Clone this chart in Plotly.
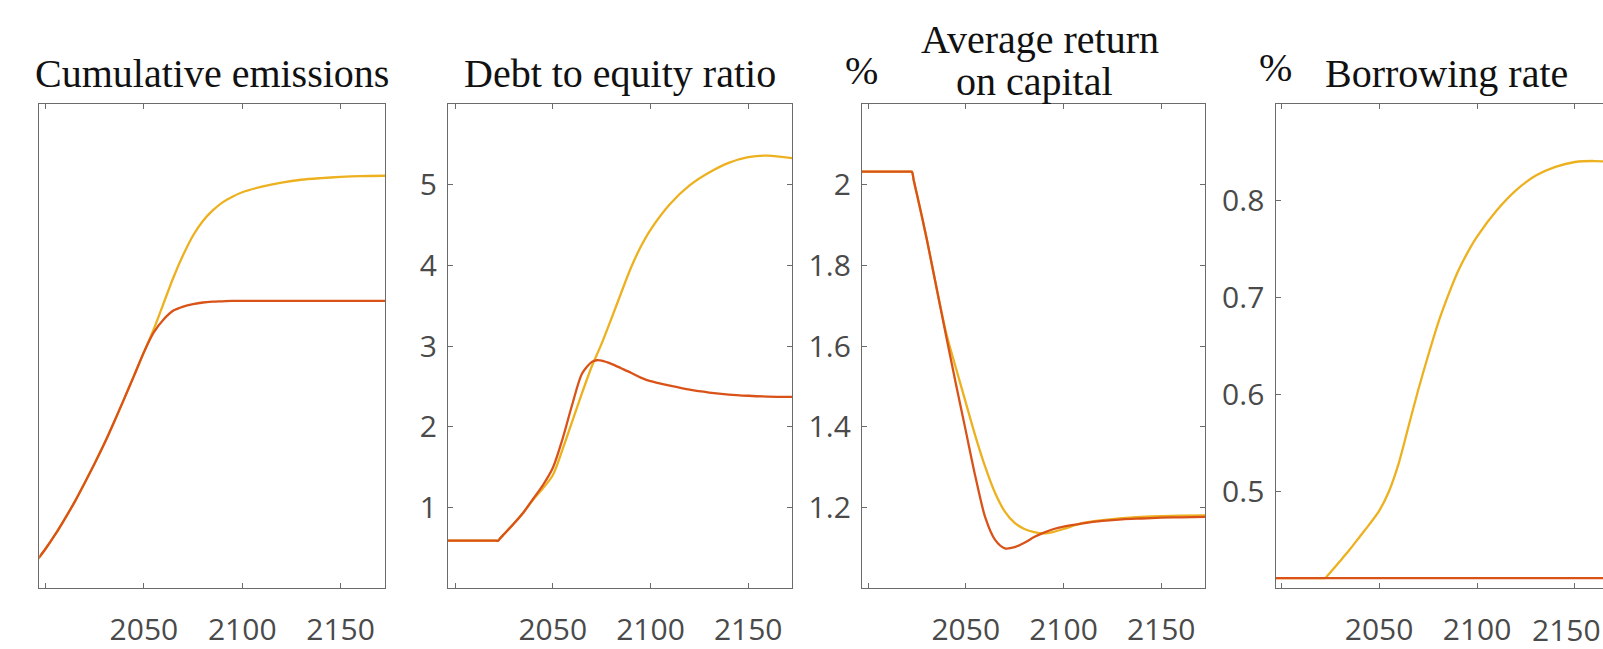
import plotly.graph_objects as go

W, H = 1603, 649

# ---------------- data ----------------
# Panel 1: Cumulative emissions (no y scale shown)
emis_years = [1996, 2000, 2005, 2010, 2015, 2020, 2025, 2030, 2035, 2040, 2045, 2050,
              2055, 2060, 2065, 2070, 2075, 2080, 2085, 2090, 2095, 2100, 2110, 2120,
              2130, 2140, 2150, 2160, 2175]
emis_red = [0.36, 0.49, 0.67, 0.87, 1.08, 1.31, 1.55, 1.80, 2.07, 2.35, 2.635, 2.925,
            3.17, 3.33, 3.44, 3.49, 3.52, 3.54, 3.55, 3.555, 3.56, 3.56, 3.56, 3.56,
            3.56, 3.56, 3.56, 3.56, 3.56]
emis_yellow = [0.36, 0.49, 0.67, 0.87, 1.08, 1.31, 1.55, 1.80, 2.07, 2.35, 2.635, 2.925,
               3.21, 3.53, 3.85, 4.13, 4.37, 4.55, 4.68, 4.78, 4.85, 4.905, 4.975, 5.025,
               5.06, 5.08, 5.095, 5.105, 5.11]

# Panel 2: Debt to equity ratio
debt_years = [1996, 2000, 2010, 2021, 2022, 2023, 2025, 2030, 2035, 2040, 2045, 2050,
              2055, 2060, 2065, 2070, 2072.5, 2075, 2080, 2085, 2090, 2095, 2100, 2110,
              2120, 2130, 2140, 2150, 2160, 2175]
debt_red = [0.59, 0.59, 0.59, 0.59, 0.59, 0.617, 0.67, 0.80, 0.94, 1.11, 1.28, 1.49,
            1.85, 2.28, 2.66, 2.805, 2.825, 2.82, 2.78, 2.725, 2.67, 2.61, 2.565, 2.51,
            2.46, 2.425, 2.40, 2.385, 2.375, 2.37]
debt_yellow = [0.59, 0.59, 0.59, 0.59, 0.59, 0.617, 0.67, 0.80, 0.94, 1.10, 1.24, 1.40,
               1.72, 2.07, 2.42, 2.75, 2.89, 3.03, 3.34, 3.66, 3.97, 4.23, 4.44, 4.76,
               4.99, 5.15, 5.27, 5.34, 5.36, 5.32]

# Panel 3: Average return on capital (%)
ret_years = [1996, 2000, 2010, 2021.4, 2022.4, 2023.4, 2025, 2030, 2035, 2040, 2045, 2050,
             2055, 2060, 2065, 2070, 2075, 2080, 2085, 2090, 2095, 2100, 2110, 2120,
             2130, 2140, 2150, 2160, 2175]
ret_red = [2.032, 2.032, 2.032, 2.032, 2.032, 2.010, 1.976, 1.866, 1.745, 1.624, 1.505,
           1.39, 1.275, 1.175, 1.12, 1.099, 1.102, 1.113, 1.127, 1.138, 1.147, 1.153,
           1.161, 1.167, 1.171, 1.173, 1.175, 1.176, 1.177]
ret_yellow = [2.032, 2.032, 2.032, 2.032, 2.032, 2.010, 1.976, 1.866, 1.745, 1.632, 1.545,
              1.46, 1.376, 1.30, 1.236, 1.19, 1.162, 1.147, 1.139, 1.136, 1.14, 1.147,
              1.162, 1.169, 1.174, 1.177, 1.179, 1.18, 1.181]

# Panel 4: Borrowing rate (%)
borrow_years = [1996, 2000, 2010, 2021.6, 2022.6, 2023.6, 2030, 2035, 2040, 2045, 2050,
                2055, 2060, 2065, 2070, 2075, 2080, 2085, 2090, 2095, 2100, 2110, 2120,
                2130, 2140, 2150, 2160, 2175]
borrow_red = [0.4106] * len(borrow_years)
borrow_yellow = [0.4106, 0.4106, 0.4106, 0.4106, 0.4106, 0.413, 0.428, 0.440, 0.453,
                 0.466, 0.480, 0.500, 0.529, 0.567, 0.605, 0.640, 0.673, 0.701, 0.726,
                 0.746, 0.763, 0.790, 0.811, 0.826, 0.835, 0.840, 0.841, 0.839]

x_tickvals = [2000, 2050, 2100, 2150]
x_ticktext = ["", "2050", "2100", "2150"]
# the last panel is cut by the right edge: its 2150 label is placed flush with the edge
x_ticktext_cut = ["", "2050", "2100", ""]
cut_label = "2150"

titles = ["Cumulative emissions", "Debt to equity ratio", "Average return", "on capital",
          "Borrowing rate"]
unit_label = "%"

debt_ticks = [1, 2, 3, 4, 5]
ret_ticks = [1.2, 1.4, 1.6, 1.8, 2.0]
ret_ticktext = ["1.2", "1.4", "1.6", "1.8", "2"]
borrow_ticks = [0.5, 0.6, 0.7, 0.8]
borrow_ticktext = ["0.5", "0.6", "0.7", "0.8"]

# ---------------- style ----------------
YELLOW = "#EDB120"
RED = "#D95319"
AXC = "#6b6b6b"
TXC = "#4a4a4a"
TICKFONT = dict(family="Open Sans", size=30, color=TXC)
SERIF = dict(family="Liberation Serif", size=40, color="#111111")

panels_px = [(39.3, 385), (448, 792), (862, 1205), (1275.5, 1603)]
top_px, bot_px = 104.5, 592
ydom = [(H - bot_px) / H, (H - top_px) / H]

fig = go.Figure()

series = [
    (emis_years, emis_yellow, emis_red),
    (debt_years, debt_yellow, debt_red),
    (ret_years, ret_yellow, ret_red),
    (borrow_years, borrow_yellow, borrow_red),
]
for i, (xs, yy, yr) in enumerate(series):
    ax = "" if i == 0 else str(i + 1)
    for ys, col in ((yy, YELLOW), (yr, RED)):
        fig.add_trace(go.Scatter(x=xs, y=ys, mode="lines",
                                 line=dict(color=col, width=2.3, shape="spline", smoothing=0.8),
                                 xaxis="x" + ax, yaxis="y" + ax, showlegend=False,
                                 hoverinfo="skip"))

common_x = dict(showline=True, linecolor=AXC, linewidth=1.4, mirror="ticks",
                ticks="inside", ticklen=5, tickwidth=1.2, tickcolor=AXC,
                showgrid=False, zeroline=False, tickvals=x_tickvals, ticktext=x_ticktext,
                tickfont=TICKFONT, ticklabelstandoff=14)
common_y = dict(showline=True, linecolor=AXC, linewidth=1.4, mirror="ticks",
                ticks="inside", ticklen=5, tickwidth=1.2, tickcolor=AXC,
                showgrid=False, zeroline=False, tickfont=TICKFONT, ticklabelstandoff=4)

x_ranges = [[1996.8, 2172.6], [1996.4, 2172.4], [1996.9, 2172.4], [1997.1, 2164.3]]
y_specs = [
    dict(range=[0, 6], showticklabels=False, ticks=""),
    dict(range=[0, 6], tickvals=debt_ticks),
    dict(range=[1.0, 2.2], tickvals=ret_ticks, ticktext=ret_ticktext),
    dict(range=[0.4, 0.9], tickvals=borrow_ticks, ticktext=borrow_ticktext, mirror=False),
]

layout = dict(width=W, height=H, margin=dict(l=0, r=0, t=0, b=0),
              paper_bgcolor="white", plot_bgcolor="white", showlegend=False)
for i, ((x0, x1), xr, ys) in enumerate(zip(panels_px, x_ranges, y_specs)):
    ax = "" if i == 0 else str(i + 1)
    xa = dict(common_x, domain=[x0 / W, x1 / W], range=xr, anchor="y" + ax)
    if i == 3:
        xa["ticktext"] = x_ticktext_cut
    ya = dict(common_y, domain=ydom, anchor="x" + ax)
    ya.update(ys)
    layout["xaxis" + ax] = xa
    layout["yaxis" + ax] = ya
fig.update_layout(**layout)

def ann(text, xpx, ypx, font=SERIF, xanchor="center", **kw):
    fig.add_annotation(text=text, x=xpx / W, y=1 - ypx / H, xref="paper", yref="paper",
                       xanchor=xanchor, yanchor="middle", showarrow=False, font=font, **kw)

ann(titles[0], 212, 74)
ann(titles[1], 620, 74)
ann(titles[2], 1040, 40)
ann(titles[3], 1034, 82)
ann(titles[4], 1446, 74)
ann(unit_label, 862, 71)
ann(unit_label, 1275, 68)
ann(cut_label, W - 1, 633, font=TICKFONT, xanchor="right", height=28, valign="middle",
    borderpad=0)

fig.write_html("out.html")
